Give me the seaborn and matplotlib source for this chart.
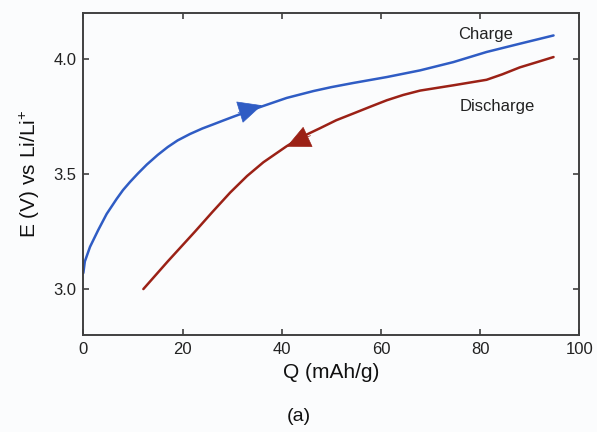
import matplotlib
matplotlib.use("Agg")
import matplotlib.pyplot as plt
import seaborn as sns
import pandas as pd

# values
charge_q = [0.0, 0.3, 1.35, 3.0, 4.7, 6.7, 8.0, 9.4, 11.0, 12.8, 15.0, 17.0, 19.0,
            21.5, 24.0, 26.2, 28.0, 30.2, 33.0, 36.0, 41.0, 46.4, 50.0, 54.4,
            61.2, 67.9, 74.6, 81.3, 88.0, 94.8]
charge_e = [3.07, 3.12, 3.184, 3.257, 3.327, 3.392, 3.431, 3.466, 3.503, 3.542, 3.584, 3.618, 3.647,
            3.675, 3.699, 3.717, 3.732, 3.75, 3.772, 3.795, 3.832, 3.862, 3.879, 3.897,
            3.923, 3.952, 3.988, 4.032, 4.068, 4.104]

discharge_q = [12.1, 17.0, 22.5, 26.0, 29.6, 33.0, 36.3, 41.0, 44.0, 47.7, 51.0,
               54.4, 58.0, 61.2, 64.5, 67.9, 74.6, 81.3, 84.5, 88.0, 91.5, 94.8]
discharge_e = [3.0, 3.12, 3.25, 3.335, 3.42, 3.492, 3.552, 3.622, 3.662, 3.70, 3.735,
               3.764, 3.795, 3.822, 3.845, 3.864, 3.887, 3.911, 3.935, 3.965, 3.988, 4.01]

blue = '#2f5cc4'
red = '#9b2116'

sns.set_theme(style='ticks')
plt.rcParams['font.family'] = ['Liberation Sans', 'DejaVu Sans']
plt.rcParams['mathtext.default'] = 'regular'

df = pd.concat([
    pd.DataFrame({'Q': charge_q, 'E': charge_e, 'run': 'Charge'}),
    pd.DataFrame({'Q': discharge_q, 'E': discharge_e, 'run': 'Discharge'}),
])

fig = plt.figure(figsize=(5.97, 4.32), dpi=100, facecolor='#fbfcfd')
ax = fig.add_axes([0.1396, 0.2245, 0.8308, 0.7445])
ax.set_facecolor('#fbfcfd')

sns.lineplot(data=df, x='Q', y='E', hue='run', palette={'Charge': blue, 'Discharge': red},
             sort=False, estimator=None, linewidth=1.8, legend=False, ax=ax)

# direction arrows
head = '-|>,head_length=0.8,head_width=0.38'
ax.annotate('', xy=(36.0, 3.80), xytext=(31.2, 3.768),
            arrowprops=dict(arrowstyle=head, color=blue, mutation_scale=20, lw=0.5,
                            shrinkA=0, shrinkB=0))
ax.annotate('', xy=(41.0, 3.62), xytext=(45.8, 3.668),
            arrowprops=dict(arrowstyle=head, color=red, mutation_scale=20, lw=0.5,
                            shrinkA=0, shrinkB=0))

ax.text(81, 4.109, 'Charge', fontsize=12, ha='center', va='center', color='#222222')
ax.text(83.4, 3.796, 'Discharge', fontsize=12, ha='center', va='center', color='#222222')

ax.set_xlim(0, 100)
ax.set_ylim(2.8, 4.2)
ax.set_xticks([0, 20, 40, 60, 80, 100])
ax.set_yticks([3.0, 3.5, 4.0])
ax.set_yticklabels(['3.0', '3.5', '4.0'])
ax.tick_params(direction='in', top=True, right=True, length=4, width=1.2,
               labelsize=12, color='#404040', labelcolor='#222222', pad=5)
for s in ax.spines.values():
    s.set_color('#404040')
    s.set_linewidth(1.4)

ax.set_xlabel('Q (mAh/g)', fontsize=15, color='#111111', labelpad=4)
ax.set_ylabel('E (V) vs Li/Li$^{+}$', fontsize=15, color='#111111', labelpad=8)

fig.text(0.5, 0.035, '(a)', fontsize=14, ha='center', va='center', color='#111111')

fig.savefig('out.png', dpi=100, facecolor=fig.get_facecolor())
